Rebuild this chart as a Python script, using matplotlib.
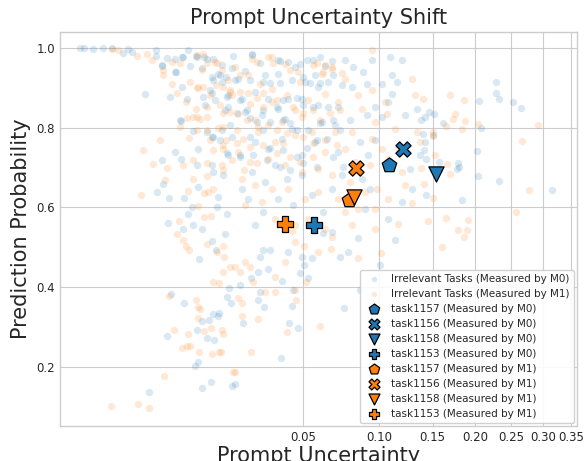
#!/usr/bin/env python3
"""Prompt uncertainty shift: irrelevant tasks vs. selected tasks, measured by M0 and M1."""

import numpy as np
import matplotlib
matplotlib.use('Agg')
import matplotlib.pyplot as plt

# Irrelevant tasks measured by M0 (uncertainty, probability)
m0_unc = [
    0.00070, 0.00082, 0.00116, 0.00163, 0.00214, 0.00290, 0.00330, 0.00364, 0.00623, 0.00623,
    0.00703, 0.00774, 0.00897, 0.01016, 0.01126, 0.00897, 0.00492, 0.00818, 0.01107, 0.01016,
    0.01305, 0.01525, 0.01668, 0.01413, 0.01644, 0.01794, 0.00999, 0.01223, 0.01525, 0.01644,
    0.01327, 0.00897, 0.00999, 0.00703, 0.01305, 0.01644, 0.01668, 0.00716, 0.01327, 0.01926,
    0.00636, 0.00803, 0.01051, 0.01794, 0.01204, 0.01126, 0.01769, 0.02036, 0.00788, 0.01034,
    0.01223, 0.01413, 0.01899, 0.02064, 0.01717, 0.01979, 0.01595, 0.02121, 0.01846, 0.01478,
    0.02064, 0.02180,
    0.01644, 0.01743, 0.01348, 0.01979, 0.00834, 0.01051, 0.01668, 0.01794, 0.01820, 0.01572,
    0.01413, 0.01305, 0.01525, 0.01693, 0.00774, 0.01327, 0.01263, 0.01619, 0.01413, 0.02180,
    0.00537, 0.02093, 0.02036, 0.02150,
    0.02822, 0.03111, 0.03831, 0.04273, 0.04604, 0.05208, 0.05531, 0.05918, 0.06635, 0.07467,
    0.08017, 0.09422, 0.1089, 0.1195, 0.08736, 0.02583, 0.02362, 0.03298, 0.03831, 0.04460,
    0.05102, 0.05640, 0.05807, 0.06391, 0.07269, 0.07947, 0.09036, 0.1022, 0.1151, 0.1107,
    0.1072, 0.09658, 0.09036, 0.1022, 0.1223, 0.07807, 0.06822, 0.06035, 0.05531, 0.04949,
    0.04273, 0.03831, 0.03417, 0.02928, 0.02488, 0.02583, 0.03186, 0.04135, 0.04460, 0.04004,
    0.03417, 0.02928, 0.02424, 0.02822, 0.03298, 0.03703, 0.04227, 0.04949, 0.05640, 0.06330,
    0.07011, 0.08513, 0.09658, 0.09112, 0.08661, 0.09265, 0.07269, 0.06635, 0.05476, 0.04949,
    0.04508, 0.03831, 0.03223, 0.02684, 0.02488, 0.02928, 0.04135, 0.06093, 0.08884, 0.1072,
    0.1195, 0.1107,
    0.03223, 0.03497, 0.03111, 0.02787, 0.03417, 0.03038, 0.02424, 0.03111, 0.03038, 0.03260,
    0.02519, 0.04460, 0.04319, 0.04750, 0.03960, 0.07401, 0.05051, 0.05261, 0.04949, 0.05476,
    0.06093, 0.06635, 0.07137, 0.07670, 0.08370, 0.04273, 0.04847, 0.04004, 0.04508, 0.02269,
    0.2277, 0.2277, 0.2319, 0.2046, 0.2524, 0.2646, 0.1339, 0.1460, 0.1513, 0.1418,
    0.1611, 0.2073, 0.1378, 0.1398, 0.1502, 0.1418, 0.1408, 0.1368, 0.1428, 0.1566,
    0.1784, 0.1772, 0.1795, 0.2021, 0.2034, 0.2319, 0.3157, 0.1290, 0.1428, 0.1832,
    0.1270, 0.1005, 0.1133, 0.0851,
    0.01034, 0.01284, 0.01456, 0.02210, 0.02822, 0.03916, 0.04847, 0.06210, 0.06698, 0.00703,
    0.00914, 0.01164, 0.01899, 0.01846, 0.02007, 0.01668, 0.02269, 0.02752, 0.03223, 0.03497,
    0.03916, 0.05000, 0.05367, 0.05918, 0.07011, 0.06390, 0.05807, 0.05000, 0.04701, 0.04047,
    0.03788, 0.03223, 0.02651, 0.02424, 0.02036, 0.01434, 0.01644, 0.02064, 0.02331, 0.02752,
    0.03000, 0.03497, 0.04047, 0.04365, 0.04701, 0.05261, 0.05918, 0.06698, 0.07137, 0.05751,
    0.05208, 0.04701, 0.04047, 0.03497, 0.03223, 0.02752, 0.02180, 0.01899, 0.01668, 0.00981,
    0.02036, 0.02424, 0.02857, 0.03377, 0.03916, 0.04365, 0.05000, 0.05751, 0.06698, 0.07335,
]
m0_prob = [
    0.999, 0.999, 0.997, 0.999, 0.999, 0.987, 0.997, 0.989, 0.994, 0.979,
    0.957, 0.974, 0.972, 0.977, 0.994, 0.939, 0.884, 0.877, 0.872, 0.902,
    0.977, 0.972, 0.972, 0.949, 0.927, 0.934, 0.817, 0.792, 0.789, 0.777,
    0.747, 0.739, 0.722, 0.719, 0.707, 0.707, 0.689, 0.659, 0.652, 0.682,
    0.639, 0.624, 0.624, 0.627, 0.602, 0.584, 0.602, 0.584, 0.562, 0.547,
    0.557, 0.547, 0.914, 0.882, 0.869, 0.844, 0.894, 0.807, 0.769, 0.857,
    0.732, 0.949,
    0.517, 0.494, 0.472, 0.534, 0.384, 0.362, 0.334, 0.329, 0.337, 0.319,
    0.317, 0.294, 0.272, 0.267, 0.277, 0.214, 0.202, 0.162, 0.147, 0.154,
    0.139, 0.399, 0.377, 0.362,
    0.982, 0.962, 0.969, 0.964, 0.952, 0.969, 0.969, 0.977, 0.967, 0.969,
    0.952, 0.969, 0.977, 0.969, 0.939, 0.942, 0.922, 0.932, 0.934, 0.919,
    0.914, 0.932, 0.902, 0.914, 0.907, 0.902, 0.909, 0.909, 0.914, 0.884,
    0.864, 0.852, 0.832, 0.827, 0.832, 0.819, 0.807, 0.814, 0.852, 0.872,
    0.872, 0.847, 0.872, 0.889, 0.872, 0.839, 0.832, 0.822, 0.797, 0.772,
    0.747, 0.764, 0.732, 0.689, 0.664, 0.707, 0.672, 0.732, 0.764, 0.772,
    0.739, 0.764, 0.769, 0.732, 0.672, 0.647, 0.682, 0.647, 0.632, 0.682,
    0.607, 0.622, 0.589, 0.622, 0.647, 0.557, 0.572, 0.589, 0.597, 0.572,
    0.614, 0.932,
    0.494, 0.494, 0.477, 0.424, 0.447, 0.439, 0.407, 0.389, 0.369, 0.352,
    0.312, 0.354, 0.312, 0.299, 0.224, 0.349, 0.457, 0.424, 0.477, 0.474,
    0.537, 0.539, 0.477, 0.489, 0.524, 0.489, 0.437, 0.417, 0.394, 0.157,
    0.914, 0.887, 0.872, 0.867, 0.864, 0.849, 0.847, 0.839, 0.834, 0.827,
    0.812, 0.799, 0.819, 0.784, 0.782, 0.764, 0.744, 0.732, 0.722, 0.714,
    0.712, 0.697, 0.702, 0.742, 0.679, 0.667, 0.644, 0.647, 0.632, 0.619,
    0.697, 0.457, 0.519, 0.394,
    0.977, 0.979, 0.977, 0.979, 0.984, 0.967, 0.959, 0.954, 0.932, 0.954,
    0.939, 0.954, 0.957, 0.932, 0.927, 0.919, 0.919, 0.919, 0.914, 0.912,
    0.912, 0.927, 0.912, 0.912, 0.852, 0.852, 0.857, 0.857, 0.874, 0.869,
    0.852, 0.844, 0.844, 0.869, 0.877, 0.877, 0.887, 0.852, 0.837, 0.824,
    0.814, 0.814, 0.819, 0.812, 0.794, 0.794, 0.812, 0.819, 0.794, 0.769,
    0.749, 0.727, 0.744, 0.749, 0.794, 0.777, 0.777, 0.794, 0.777, 0.819,
    0.737, 0.727, 0.732, 0.719, 0.702, 0.694, 0.712, 0.702, 0.727, 0.702,
]

# Irrelevant tasks measured by M1
m1_unc = [
    0.00214, 0.00253, 0.00411, 0.00515, 0.00573, 0.00716, 0.00716, 0.00850, 0.00931, 0.01088,
    0.01164, 0.01327, 0.01284, 0.01223, 0.01369, 0.01525, 0.00675, 0.00471, 0.00586, 0.00744,
    0.00450, 0.01145, 0.01223, 0.01126, 0.01456, 0.01548, 0.01668, 0.01525, 0.01327, 0.00964,
    0.01456, 0.01619, 0.01926, 0.01668,
    0.01717, 0.01899, 0.02064, 0.01595, 0.01846, 0.02121, 0.01794, 0.02007, 0.02180, 0.01899,
    0.01743, 0.02121,
    0.00931, 0.01034, 0.01088, 0.01145, 0.01525, 0.01769, 0.01926, 0.01952, 0.01926, 0.02121,
    0.01668, 0.01820, 0.00803, 0.01284, 0.01327, 0.01369, 0.01327, 0.00881, 0.01126, 0.01456,
    0.01619, 0.01899, 0.01926, 0.01016, 0.01107, 0.01164, 0.01348, 0.01644, 0.01820, 0.01872,
    0.00730, 0.00420, 0.00207, 0.00537, 0.02210,
    0.02822, 0.03579, 0.04135, 0.05531, 0.06210, 0.06635, 0.09422, 0.02269, 0.02424, 0.02684,
    0.03111, 0.03579, 0.04847, 0.06035, 0.07467, 0.08371, 0.09422, 0.1047, 0.1064, 0.09658,
    0.08661, 0.07011, 0.06210, 0.05261, 0.04508, 0.03788, 0.03223, 0.02752, 0.02362, 0.02928,
    0.03417, 0.04004, 0.04949, 0.05918, 0.06822, 0.07947, 0.09422, 0.1022, 0.1072, 0.09265,
    0.08158, 0.07467, 0.06210, 0.05476, 0.04604, 0.03703, 0.03038, 0.02519, 0.02362, 0.02752,
    0.03417, 0.04135, 0.04949, 0.05807, 0.06635, 0.07807, 0.08884, 0.09814, 0.1072, 0.09658,
    0.08370, 0.07467, 0.07011, 0.05807, 0.05102, 0.04273, 0.03579, 0.02928, 0.02488, 0.02583,
    0.03186, 0.03703, 0.04604, 0.05261, 0.06210, 0.07947, 0.09658, 0.1159, 0.1195, 0.1223,
    0.1159, 0.1133,
    0.02269, 0.02424, 0.02583, 0.02752, 0.02857, 0.02362, 0.02488, 0.02488, 0.03038, 0.03298,
    0.03703, 0.04135, 0.03703, 0.04604, 0.04653, 0.04227, 0.05155, 0.05051, 0.05807, 0.06573,
    0.06635, 0.05918, 0.08370, 0.1013, 0.02787, 0.02269, 0.04460, 0.04604,
    0.1290, 0.1319, 0.1398, 0.1690, 0.1857, 0.1749, 0.1725, 0.1869, 0.1832, 0.1644,
    0.2034, 0.2918, 0.1339, 0.1368, 0.1502, 0.1502, 0.2662, 0.1524, 0.1656, 0.1378,
    0.1690, 0.1408, 0.1502, 0.1290, 0.2772, 0.2569, 0.1644, 0.1449, 0.1906, 0.1784,
    0.1894, 0.1857, 0.1599,
    0.00850, 0.00981, 0.01305, 0.01434, 0.01525, 0.01413, 0.01305, 0.01434, 0.01769, 0.01926,
    0.02121, 0.02180, 0.02424, 0.03000, 0.03417, 0.03620, 0.04365, 0.04750, 0.05751, 0.06093,
    0.06635, 0.07269, 0.02684, 0.03000, 0.03223, 0.03579, 0.04227, 0.04604, 0.05000, 0.05531,
    0.06511, 0.07137, 0.01926, 0.01525, 0.01305, 0.01107, 0.00981, 0.01305, 0.01525, 0.01926,
    0.02331, 0.02651, 0.03038, 0.03788, 0.04227, 0.05000, 0.05531, 0.06210, 0.06948, 0.01595,
    0.01926, 0.02331, 0.02752, 0.03223, 0.04047, 0.03788, 0.04365, 0.04847, 0.05531, 0.03000,
    0.02551, 0.01926, 0.01525, 0.01223, 0.00774, 0.01034,
]
m1_prob = [
    0.997, 0.994, 0.979, 0.984, 0.969, 0.944, 0.932, 0.909, 0.887, 0.864,
    0.914, 0.902, 0.847, 0.827, 0.822, 0.827, 0.769, 0.744, 0.709, 0.669,
    0.632, 0.774, 0.672, 0.642, 0.637, 0.639, 0.647, 0.679, 0.604, 0.567,
    0.577, 0.579, 0.747, 0.744,
    0.964, 0.944, 0.919, 0.882, 0.857, 0.839, 0.799, 0.769, 0.719, 0.707,
    0.907, 0.889,
    0.534, 0.519, 0.504, 0.494, 0.509, 0.489, 0.504, 0.477, 0.439, 0.452,
    0.414, 0.412, 0.379, 0.369, 0.352, 0.347, 0.324, 0.294, 0.284, 0.292,
    0.299, 0.294, 0.284, 0.249, 0.252, 0.252, 0.239, 0.234, 0.239, 0.239,
    0.177, 0.109, 0.104, 0.099, 0.187,
    0.972, 0.977, 0.959, 0.957, 0.957, 0.947, 0.994, 0.952, 0.889, 0.932,
    0.909, 0.897, 0.914, 0.934, 0.922, 0.882, 0.894, 0.864, 0.834, 0.814,
    0.847, 0.864, 0.884, 0.869, 0.852, 0.869, 0.852, 0.859, 0.834, 0.819,
    0.807, 0.814, 0.827, 0.819, 0.789, 0.789, 0.772, 0.747, 0.722, 0.707,
    0.714, 0.747, 0.739, 0.789, 0.782, 0.764, 0.789, 0.772, 0.739, 0.714,
    0.722, 0.707, 0.689, 0.697, 0.682, 0.664, 0.639, 0.647, 0.622, 0.597,
    0.597, 0.589, 0.622, 0.639, 0.622, 0.647, 0.647, 0.657, 0.672, 0.607,
    0.614, 0.572, 0.557, 0.572, 0.547, 0.557, 0.547, 0.559, 0.689, 0.657,
    0.747, 0.797,
    0.452, 0.439, 0.464, 0.452, 0.414, 0.374, 0.362, 0.329, 0.322, 0.389,
    0.389, 0.464, 0.427, 0.394, 0.369, 0.289, 0.414, 0.504, 0.489, 0.497,
    0.527, 0.304, 0.474, 0.487, 0.237, 0.187, 0.542, 0.514,
    0.922, 0.882, 0.872, 0.882, 0.869, 0.834, 0.822, 0.817, 0.797, 0.804,
    0.809, 0.807, 0.789, 0.764, 0.789, 0.779, 0.767, 0.732, 0.709, 0.699,
    0.684, 0.659, 0.624, 0.612, 0.644, 0.589, 0.574, 0.567, 0.569, 0.544,
    0.544, 0.527, 0.502,
    0.964, 0.962, 0.982, 0.984, 0.962, 0.944, 0.899, 0.902, 0.962, 0.902,
    0.894, 0.882, 0.932, 0.964, 0.977, 0.962, 0.944, 0.939, 0.962, 0.939,
    0.952, 0.937, 0.887, 0.874, 0.887, 0.864, 0.882, 0.844, 0.837, 0.844,
    0.837, 0.844, 0.837, 0.852, 0.827, 0.824, 0.802, 0.794, 0.794, 0.802,
    0.794, 0.819, 0.802, 0.794, 0.787, 0.777, 0.762, 0.769, 0.757, 0.769,
    0.757, 0.762, 0.752, 0.757, 0.762, 0.737, 0.727, 0.714, 0.727, 0.712,
    0.694, 0.694, 0.712, 0.719, 0.699, 0.707,
]

# Selected tasks
tasks = ['task1157', 'task1156', 'task1158', 'task1153']
task_markers = ['p', 'X', 'v', 'P']
task_unc_m0 = [0.108, 0.1209, 0.154, 0.056]
task_prob_m0 = [0.707, 0.746, 0.684, 0.556]
task_unc_m1 = [0.0774, 0.0822, 0.081, 0.0414]
task_prob_m1 = [0.619, 0.699, 0.626, 0.559]

BLUE = '#1f77b4'
ORANGE = '#ff7f0e'

plt.style.use('seaborn-v0_8-whitegrid')
plt.rcParams['font.family'] = ['DejaVu Sans']
fig, ax = plt.subplots(figsize=(5.85, 4.61), dpi=100)
fig.subplots_adjust(left=0.1026, right=0.986, top=0.9306, bottom=0.0759)

# cube-root axis for uncertainty
ax.set_xscale('function', functions=(np.cbrt, lambda u: u ** 3))

ax.scatter(m0_unc, m0_prob, s=28, color=BLUE, alpha=0.17, linewidths=0,
           label='Irrelevant Tasks (Measured by M0)')
ax.scatter(m1_unc, m1_prob, s=28, color=ORANGE, alpha=0.17, linewidths=0,
           label='Irrelevant Tasks (Measured by M1)')

for name, mk, xv, yv in zip(tasks, task_markers, task_unc_m0, task_prob_m0):
    ax.scatter([xv], [yv], s=120, marker=mk, color=BLUE, edgecolors='black',
               linewidths=0.9, zorder=5, label=f'{name} (Measured by M0)')
for name, mk, xv, yv in zip(tasks, task_markers, task_unc_m1, task_prob_m1):
    ax.scatter([xv], [yv], s=120, marker=mk, color=ORANGE, edgecolors='black',
               linewidths=0.9, zorder=5, label=f'{name} (Measured by M1)')

ax.set_xlim(0.000256, 0.3613)
ax.set_ylim(0.053, 1.039)
xticks = [0.05, 0.10, 0.15, 0.20, 0.25, 0.30, 0.35]
ax.set_xticks(xticks)
ax.set_xticklabels([f'{t:.2f}' for t in xticks])
ax.xaxis.set_minor_locator(matplotlib.ticker.NullLocator())
ax.set_yticks([0.2, 0.4, 0.6, 0.8, 1.0])
ax.tick_params(labelsize=8.5, colors='#262626')

for sp in ax.spines.values():
    sp.set_visible(True)
    sp.set_color('#cccccc')

ax.set_title('Prompt Uncertainty Shift', fontsize=15)
ax.set_xlabel('Prompt Uncertainty', fontsize=15, labelpad=1.5)
ax.set_ylabel('Prediction Probability', fontsize=15)

ax.legend(loc='lower right', fontsize=7.5, frameon=True, framealpha=0.9,
          markerscale=0.72, borderaxespad=0.3, handletextpad=0.6,
          labelspacing=0.48)

fig.savefig('out.png', dpi=100)
